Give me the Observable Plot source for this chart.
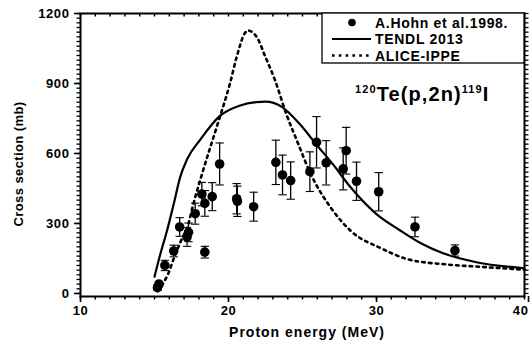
<!DOCTYPE html>
<html>
<head>
<meta charset="utf-8">
<script src="https://cdn.jsdelivr.net/npm/d3@7"></script>
<script src="https://cdn.jsdelivr.net/npm/@observablehq/plot@0.6"></script>
<style>
  html, body { margin: 0; padding: 0; background: #fff; }
  #wrap { position: relative; width: 530px; height: 342px; font-family: "Liberation Sans", Arial, sans-serif; overflow: hidden; }
  #wrap svg { display: block; }
  .ov { position: absolute; font-weight: bold; color: #000; white-space: nowrap; }
</style>
</head>
<body>
<div id="wrap"></div>
<script>
// Experimental data: A.Hohn et al. 1998 (energy MeV, cross section mb, error mb)
const expE   = [15.2, 15.3, 15.7, 16.3, 16.7, 17.2, 17.3, 17.75, 18.2, 18.4, 18.4, 18.9, 19.4, 20.55, 20.6, 21.7, 23.2, 23.65, 24.2, 25.5, 25.95, 26.6, 27.75, 27.95, 28.65, 30.15, 32.6, 35.3];
const expXS  = [25, 40, 120, 182, 285, 242, 262, 342, 426, 386, 177, 415, 555, 406, 395, 372, 562, 508, 484, 522, 648, 560, 534, 612, 481, 436, 285, 184];
const expErr = [12, 12, 22, 25, 40, 40, 40, 45, 50, 55, 25, 60, 90, 65, 65, 62, 95, 85, 80, 85, 110, 95, 90, 100, 82, 82, 42, 24];

// TENDL 2013
const tendlE  = [15.0, 15.4, 15.85, 16.3, 16.74, 17.2, 18.1, 19.4, 20.8, 21.9, 22.5, 23.6, 24.8, 25.85, 27.1, 28.25, 30.0, 31.6, 33.0, 34.5, 36.75, 40.0];
const tendlXS = [72, 170, 270, 384, 500, 575, 660, 760, 806, 820, 822, 800, 727, 645, 550, 455, 340, 270, 215, 172, 134, 108];

// ALICE-IPPE
const aliceE  = [15.2, 15.6, 15.95, 16.3, 16.75, 17.3, 17.6, 18.2, 19.2, 20.1, 20.55, 21.1, 21.3, 21.9, 22.5, 23.15, 23.9, 24.7, 25.5, 27.0, 28.3, 30.3, 32.1, 34.8, 37.1, 40.0];
const aliceXS = [10, 45, 88, 150, 220, 300, 377, 510, 713, 900, 1013, 1115, 1127, 1100, 1013, 913, 770, 643, 520, 360, 266, 194, 147, 124, 114, 102];

const xMajor = [10, 20, 30];
const xLast = [40];
const yMajor = [0, 300, 600, 900, 1200];
const xMinor = d3.range(10, 41, 1);
const yMinor = d3.range(0, 1201, 20);

const exp = expE.map((e, i) => ({x: e, y: expXS[i], lo: expXS[i] - expErr[i], hi: expXS[i] + expErr[i]}));
const tendl = tendlE.map((e, i) => ({x: e, y: tendlXS[i]}));
const alice = aliceE.map((e, i) => ({x: e, y: aliceXS[i]}));
const capW = 0.28;

const W = 530, H = 342, mL = 80, mR = 6, mT = 13, mB = 46;
const frameH = H - mT - mB;

const chart = Plot.plot({
  width: W,
  height: H,
  marginLeft: mL,
  marginRight: mR,
  marginTop: mT,
  marginBottom: mB,
  style: {fontFamily: "'Liberation Sans', Arial, sans-serif", fontSize: "13px", fontWeight: "bold", color: "#000", background: "#fff", letterSpacing: "0.6px", overflow: "visible"},
  x: {domain: [10, 40]},
  y: {domain: [-13, 1200]},
  marks: [
    // minor ticks
    Plot.axisX({anchor: "bottom", ticks: xMinor, tickSize: 3.5, text: null, label: null, strokeWidth: 1.5}),
    Plot.axisY({anchor: "left", ticks: yMinor, tickSize: 3.5, text: null, label: null, strokeWidth: 1.3}),
    Plot.axisY({anchor: "right", ticks: yMinor, tickSize: 3.5, text: null, label: null, strokeWidth: 1.3}),
    Plot.tickX(xMinor, {x: d => d, insetBottom: frameH - 3.5, stroke: "#000", strokeWidth: 1.5}),
    // major ticks and labels
    Plot.axisX({anchor: "bottom", ticks: xMajor, tickSize: 6, tickPadding: 3, strokeWidth: 1.6, label: null, tickFormat: d => String(d)}),
    Plot.axisX({anchor: "bottom", ticks: xLast, tickSize: 6, tickPadding: 3, strokeWidth: 1.6, label: null, textAnchor: "end", dx: 4, tickFormat: d => String(d)}),
    Plot.axisY({anchor: "left", ticks: yMajor, tickSize: 6, tickPadding: 5, strokeWidth: 1.6, label: null, tickFormat: d => String(d)}),
    Plot.frame({stroke: "#000", strokeWidth: 2}),
    // model curves
    Plot.line(alice, {x: "x", y: "y", curve: "monotone-x", stroke: "#000", strokeWidth: 2.6, strokeDasharray: "2.6,4.2"}),
    Plot.line(tendl, {x: "x", y: "y", curve: "monotone-x", stroke: "#000", strokeWidth: 2.2}),
    // error bars
    Plot.ruleX(exp, {x: "x", y1: "lo", y2: "hi", stroke: "#000", strokeWidth: 1.3}),
    Plot.link(exp, {x1: d => d.x - capW, x2: d => d.x + capW, y1: "hi", y2: "hi", stroke: "#000", strokeWidth: 1.1}),
    Plot.link(exp, {x1: d => d.x - capW, x2: d => d.x + capW, y1: "lo", y2: "lo", stroke: "#000", strokeWidth: 1.1}),
    Plot.dot(exp, {x: "x", y: "y", r: 4.8, fill: "#000", stroke: "none"})
  ]
});

const wrap = document.getElementById("wrap");
wrap.appendChild(chart);

// Axis titles
const yl = document.createElement("div");
yl.className = "ov";
yl.style.cssText = "left:18px;top:164px;font-size:13px;letter-spacing:0.4px;transform:translate(-50%,-50%) rotate(-90deg);";
yl.textContent = "Cross section (mb)";
wrap.appendChild(yl);

const xl = document.createElement("div");
xl.className = "ov";
xl.style.cssText = "left:307px;top:332px;font-size:14px;letter-spacing:1px;transform:translate(-50%,-50%);";
xl.textContent = "Proton energy (MeV)";
wrap.appendChild(xl);

// Reaction label
const rl = document.createElement("div");
rl.className = "ov";
rl.style.cssText = "left:355px;top:83px;font-size:20px;letter-spacing:1.1px;";
rl.innerHTML = '<sup style="font-size:11px;vertical-align:8px">120</sup>Te(p,2n)<sup style="font-size:11px;vertical-align:8px">119</sup>I';
wrap.appendChild(rl);

// Legend
const ns = "http://www.w3.org/2000/svg";
const lg = document.createElementNS(ns, "svg");
lg.setAttribute("width", 204);
lg.setAttribute("height", 52);
lg.style.cssText = "position:absolute;left:321px;top:12px;overflow:visible";
const entries = [
  {label: "A.Hohn et al.1998.", kind: "dot"},
  {label: "TENDL 2013", kind: "solid"},
  {label: "ALICE-IPPE", kind: "dotted"}
];
lg.innerHTML = `<rect x="1" y="1" width="202" height="50" fill="#fff" stroke="#000" stroke-width="1.3"/>` +
  entries.map((e, i) => {
    const y = 10.5 + i * 16.5;
    let sym = "";
    if (e.kind === "dot") sym = `<circle cx="31" cy="${y}" r="3.8" fill="#000"/>`;
    if (e.kind === "solid") sym = `<line x1="11" x2="50" y1="${y}" y2="${y}" stroke="#000" stroke-width="2"/>`;
    if (e.kind === "dotted") sym = `<line x1="11" x2="50" y1="${y}" y2="${y}" stroke="#000" stroke-width="2.4" stroke-dasharray="2.6,4.2"/>`;
    return sym + `<text x="54" y="${y + 5}" font-family="'Liberation Sans', Arial, sans-serif" font-weight="bold" font-size="14" letter-spacing="0.7">${e.label}</text>`;
  }).join("");
wrap.appendChild(lg);
</script>
</body>
</html>
